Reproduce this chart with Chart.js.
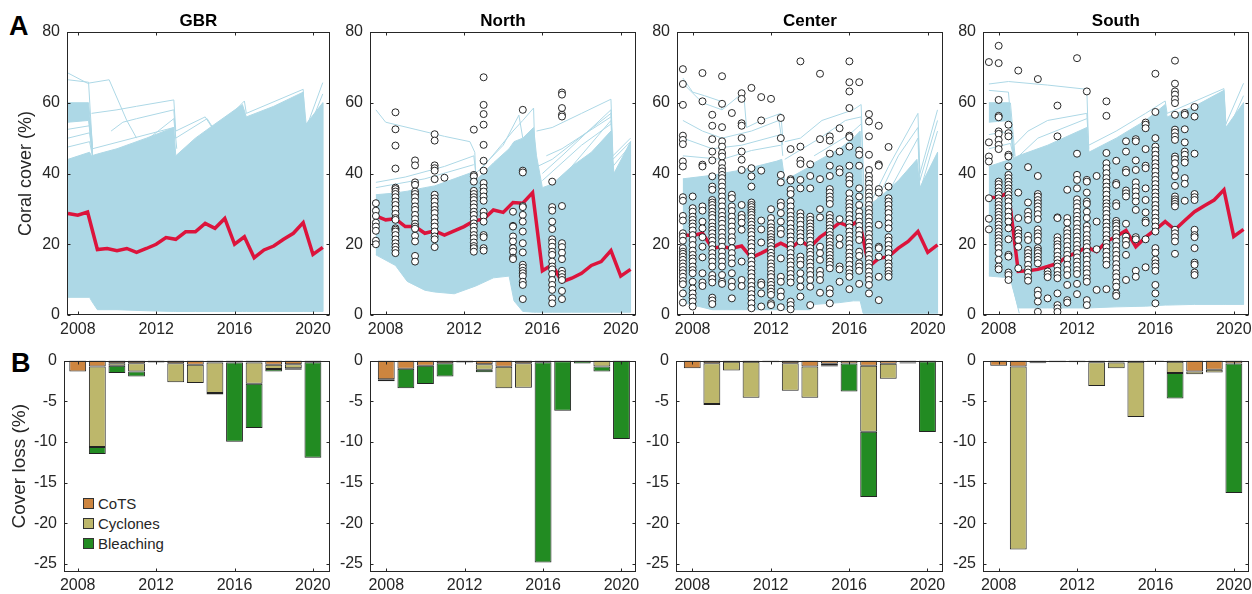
<!DOCTYPE html>
<html lang="en">
<head>
<meta charset="UTF-8">
<title>Coral cover and cover loss</title>
<script src="https://cdn.jsdelivr.net/npm/chart.js"></script>
<style>
    body { margin: 0; background: #fff; overflow: hidden; font-family: "Liberation Sans", Arial, sans-serif; }
    #figure { position: relative; width: 1252px; height: 594px; }
    #figure canvas { position: absolute; }
    .letter { position: absolute; font-weight: bold; font-size: 27px; color: #000; line-height: 1; }
    .legend { position: absolute; left: 83px; top: 493px; font-size: 15px; color: #262626; }
    .legend div { height: 20.3px; display: flex; align-items: center; }
    .legend .box { width: 9px; height: 9px; border: 1px solid #333; margin-right: 4px; }
</style>
</head>
<body>
<div id="figure">
    <div class="letter" style="left:9px; top:13px;">A</div>
    <div class="letter" style="left:11px; top:350px;">B</div>
    <div class="legend">
        <div><span class="box" style="background:#cd853f"></span>CoTS</div>
        <div><span class="box" style="background:#bdb76b"></span>Cyclones</div>
        <div><span class="box" style="background:#228b22"></span>Bleaching</div>
    </div>
</div>
<script>
// ---- tick labels
const coverTicks = [0, 20, 40, 60, 80];
const lossTicks = [-25, -20, -15, -10, -5, 0];
const yearTicks = [2008, 2012, 2016, 2020];

// ---- mean coral cover (red line), every half year
const meanYears = [2007.5, 2008, 2008.5, 2009, 2009.5, 2010, 2010.5, 2011, 2011.5, 2012, 2012.5, 2013, 2013.5,
    2014, 2014.5, 2015, 2015.5, 2016, 2016.5, 2017, 2017.5, 2018, 2018.5, 2019, 2019.5, 2020, 2020.5];
const gbrMean = [28.7, 28.2, 29.1, 18.5, 18.8, 18.2, 18.8, 17.7, 18.8, 20.0, 21.9, 21.4, 23.5, 23.5, 25.9, 24.5, 27.3, 20.0, 22.1, 16.2, 18.4, 19.5, 21.4, 23.1, 26.1, 17.1, 19.1];
const northMean = [28.0, 26.9, 27.2, 25.0, 25.0, 23.1, 23.8, 22.6, 23.8, 25.0, 26.6, 27.1, 29.7, 29.0, 31.8, 31.6, 34.6, 12.5, 14.2, 9.4, 10.4, 11.8, 14.0, 15.1, 18.2, 11.0, 12.9];
const centerMean = [22.6, 22.5, 23.1, 18.9, 19.3, 18.9, 19.5, 16.2, 17.5, 18.9, 20.3, 18.9, 21.0, 19.2, 22.0, 23.9, 26.1, 25.0, 26.8, 13.7, 16.0, 16.5, 18.9, 20.8, 23.6, 17.7, 19.8];
const southMean = [33.2, 33.3, 34.6, 12.3, 12.5, 12.9, 13.7, 14.6, 16.5, 17.7, 19.2, 17.9, 20.8, 22.2, 23.9, 19.3, 22.0, 24.1, 26.4, 24.1, 26.7, 29.2, 30.9, 32.5, 35.4, 22.2, 24.2];

// ---- envelope of the simulated trajectories (dense light blue mass)
const gbrEnvYears = [2007.5, 2008.6, 2008.7, 2009.0, 2010, 2011.5, 2012.9, 2013.0, 2014, 2015, 2016.4, 2016.6, 2018, 2019.5, 2019.65, 2020.5];
const gbrEnvTop = [44, 46, 45, 45.5, 47, 50, 53, 45, 50, 54, 59.5, 56, 59, 63, 54, 60];
const gbrEnvBottom = [5, 5, 4, 1.5, 1.5, 1.2, 1, 1, 1, 1, 1, 1, 1, 1, 1, 1];
const northEnvYears = [2007.5, 2008.5, 2009.1, 2010.0, 2010.5, 2011.5, 2012.5, 2012.6, 2013.5, 2014.3, 2014.55, 2015.0, 2015.55, 2015.7, 2016.0, 2016.5, 2017.5, 2018.5, 2019.5, 2019.65, 2020.5];
const northEnvTop = [34, 34.5, 35, 36, 36.5, 38.5, 40.5, 38, 43, 47, 49, 50, 53, 45, 36, 37, 42, 46, 52, 40, 49];
const northEnvBottom = [17, 14, 9.5, 7, 6.5, 6, 8, 8.2, 10.5, 11, 4, 1, 0.8, 0.8, 0.8, 0.8, 0.8, 0.8, 0.8, 0.8, 0.8];
const centerEnvYears = [2007.5, 2009.0, 2010.5, 2012.3, 2012.55, 2012.7, 2014.0, 2014.2, 2015.5, 2016.2, 2016.55, 2016.7, 2017.5, 2018.5, 2019.45, 2019.6, 2020.5];
const centerEnvTop = [38.5, 39.5, 41, 43.5, 44, 38, 42, 43, 47, 50, 52, 30, 33, 38, 44, 36, 46];
const centerEnvBottom = [3.5, 1.5, 1.5, 1.5, 1.5, 1.5, 1.5, 3, 3.5, 4, 4, 0.5, 0.5, 0.5, 0.5, 0.5, 0.5];
const southEnvYears = [2007.5, 2008.6, 2008.7, 2009.0, 2010.5, 2012.5, 2012.6, 2014.0, 2015.5, 2016.5, 2016.6, 2018.0, 2019.5, 2019.6, 2020.5];
const southEnvTop = [42, 44, 44, 45, 48, 53, 46, 50, 55, 59.5, 56, 59, 63.5, 53, 60];
const southEnvBottom = [11, 10.5, 8, 2, 2, 2, 2, 2.3, 2.5, 2.8, 2.8, 3, 3, 3, 3];
// solid band of trajectories near 55-60 % at the start
const shelfYears = [2007.5, 2008.55, 2008.75];
const gbrShelfTop = [60, 60, 48];
const gbrShelfBottom = [54.5, 55, 45];
const southShelfTop = [60, 60, 47];
const southShelfBottom = [54.5, 55, 44];

// ---- individual sparse trajectories above the dense mass
const gbrLineYears = [
    [2007.5, 2008.5, 2009.6, 2010.5, 2011.0],
    [2007.5, 2008.55, 2008.75, 2012.9],
    [2008.7, 2010, 2011, 2012.9, 2013.0, 2014.5, 2015.2],
    [2009.7, 2010.3, 2011, 2012.9, 2013.0],
    [2010.5, 2012.9, 2013.05],
    [2013, 2014.6, 2015.0, 2016.5, 2016.6, 2019.5, 2019.6, 2020.5],
    [2016.6, 2019.5, 2019.6, 2020.5],
    [2007.5, 2008.6, 2008.75],
    [2007.5, 2008.6, 2008.75],
    [2007.5, 2008.6, 2008.75]
];
const gbrLineCover = [
    [68.4, 65.5, 66.5, 55, 50],
    [66.5, 65.8, 47, 53],
    [57, 58, 59, 60.8, 52, 56, 50],
    [52, 54.5, 55.5, 58, 50],
    [45, 55.5, 47],
    [50, 55.5, 52, 60.5, 57, 63.8, 52, 65.7],
    [55, 62, 50, 62.5],
    [52.5, 53.5, 46],
    [50, 51.5, 45.5],
    [47.5, 49, 45]
];
const northLineYears = [
    [2007.5, 2008, 2009.5, 2011, 2012.3, 2012.55, 2012.6],
    [2007.5, 2009, 2011, 2012.5, 2012.6],
    [2007.5, 2010, 2012.5],
    [2012.6, 2014, 2014.8, 2015.0],
    [2013, 2014.5, 2015.0, 2015.55, 2015.65, 2016],
    [2015.7, 2016.5, 2018, 2019.5, 2019.6, 2020.5],
    [2016.0, 2017, 2019.5, 2019.6, 2020.5],
    [2016.3, 2017.5, 2019.5, 2019.6],
    [2016.5, 2019.5, 2019.65, 2020.5],
    [2016.2, 2017, 2019.5],
    [2015.75, 2016.5, 2019.5, 2019.6, 2020.5],
    [2016.0, 2018, 2019.5]
];
const northLineCover = [
    [58, 54.5, 52.5, 50.5, 49, 46, 39],
    [37.5, 39, 42, 45, 40],
    [36, 38.5, 42.5],
    [40, 48, 56.5, 50],
    [42, 52, 55, 58.5, 40, 20],
    [52, 53, 57, 61, 45, 50],
    [40, 45, 58, 42, 48],
    [35, 42, 55, 40],
    [30, 52, 37, 45],
    [45, 47, 56],
    [42, 44, 57, 44, 49],
    [38, 48, 54]
];
const centerLineYears = [
    [2007.5, 2008.0, 2008.6, 2009.4, 2009.5],
    [2007.5, 2008.5, 2009.5, 2010.6, 2010.75, 2011.5, 2012.5, 2012.6],
    [2007.5, 2008.5, 2009.5, 2011, 2012.4, 2012.6],
    [2007.5, 2009, 2010.5, 2012.5, 2012.6],
    [2007.5, 2009.5, 2011, 2012.5],
    [2012.7, 2013.5, 2014.6, 2016.2, 2016.6, 2016.75],
    [2012.7, 2014.5, 2015.8, 2016.6, 2016.75],
    [2014.2, 2016, 2016.6],
    [2016.75, 2018, 2019.5, 2019.6, 2020.5],
    [2016.75, 2018.5, 2019.5, 2019.6, 2020.5],
    [2016.75, 2019.5, 2019.6, 2020.5]
];
const centerLineCover = [
    [67, 63, 62, 60.5, 58],
    [65.5, 60, 58, 63, 53, 55, 57, 50],
    [55, 52, 50, 52, 55, 48],
    [50, 47, 48, 51, 45],
    [45, 44, 46.5, 48],
    [49, 50, 55, 58, 59.5, 35],
    [44, 50, 55, 56, 30],
    [45, 51, 54],
    [28, 42, 57, 40, 58],
    [25, 45, 53, 38, 55],
    [22, 50, 35, 52]
];
const southLineYears = [
    [2007.5, 2008.5, 2010.5, 2012.5, 2012.6],
    [2007.5, 2008.5, 2008.75],
    [2008.8, 2009.5, 2010.5, 2012.5, 2012.6],
    [2008.6, 2008.85, 2010, 2012.5],
    [2012.6, 2014, 2015.5, 2016.5, 2016.6, 2019.5, 2019.6, 2020.5],
    [2016.6, 2019.5, 2019.6, 2020.5],
    [2007.5, 2008.6, 2009.05],
    [2007.5, 2008.6, 2008.8],
    [2007.5, 2008.6, 2008.8]
];
const southLineCover = [
    [65.3, 66, 65, 63.8, 46],
    [63.5, 63, 46],
    [48, 52, 55, 57, 47],
    [60, 44, 50, 55.5],
    [48, 52, 57, 60.5, 57, 64, 54, 65.5],
    [55, 62.5, 51, 62],
    [11.8, 10.8, 0.5],
    [51, 52, 45],
    [47, 48.5, 44]
];

// ---- survey observations (open circles), one list per survey time
const northObsYears = [2007.5, 2008.5, 2009.5, 2010.5, 2011, 2012.5, 2013, 2014.5, 2015, 2016.5, 2017];
const northObs = [
    [31.6, 29.5, 28.0, 26.1, 25.0, 23.8, 21.0, 20.0],
    [57.3, 52.5, 47.9, 41.4, 36.0, 35.6, 34.9, 34.2, 33.3, 32.1, 31.1, 29.9, 28.6, 27.4, 26.9, 24.5, 24.1, 23.6, 22.6, 21.4, 20.3, 19.3, 18.4, 17.5],
    [43.7, 42.3, 37.5, 36.8, 34.9, 34.2, 33.3, 32.1, 30.7, 29.7, 28.3, 27.1, 25.8, 25.0, 24.4, 22.4, 20.8, 16.7, 15.1],
    [51.1, 49.3, 42.3, 41.5, 40.8, 38.4, 34.0, 33.0, 32.1, 30.8, 29.7, 28.8, 27.4, 26.1, 25.0, 23.6, 22.2, 21.4, 19.2],
    [38.8],
    [52.4, 39.6, 39.2, 37.7, 35.1, 34.2, 33.3, 32.5, 31.4, 30.4, 29.2, 28.3, 27.1, 25.9, 25.0, 23.8, 22.6, 21.7, 20.5, 19.5, 18.9, 17.9],
    [67.2, 59.4, 56.8, 53.8, 48.1, 43.6, 40.8, 37.3, 36.0, 34.9, 33.5, 32.3, 29.2, 28.0, 26.4, 22.6, 22.0, 18.9, 18.2],
    [29.2, 25.2, 25.0, 22.2, 20.8, 18.9, 17.9, 16.2, 15.8],
    [58.0, 40.8, 40.3, 30.8, 30.5, 28.3, 26.4, 23.6, 20.3, 17.7, 14.2, 13.4, 12.5, 11.8, 11.0, 9.4, 8.5, 4.5],
    [37.7, 30.5, 29.5, 26.4, 24.3, 21.4, 20.5, 19.3, 17.9, 17.0, 15.1, 13.7, 12.9, 11.6, 9.9, 8.5, 7.1, 4.7, 3.3],
    [62.9, 62.3, 58.5, 56.6, 56.1, 30.8, 20.3, 19.2, 17.6, 15.8, 12.5, 11.6, 10.7, 9.9, 6.8, 4.5]
];
const centerObsYears = [2007.5, 2008, 2008.5, 2009, 2009.5, 2010, 2010.5, 2011, 2011.5, 2012, 2012.5, 2013, 2013.5, 2014, 2014.5, 2015, 2015.5, 2016, 2016.5, 2017, 2017.5, 2018];
const centerObs = [
    [69.5, 65.3, 59.4, 50.7, 49.5, 48.3, 43.4, 42.0, 33.3, 32.3, 28.0, 26.7, 23.1, 22.2, 21.0, 18.9, 17.9, 17.3, 16.5, 15.6, 14.6, 13.7, 12.7, 11.8, 10.8, 9.6, 8.7, 6.1, 3.5],
    [33.5, 30.2, 29.2, 27.8, 26.9, 25.9, 25.0, 23.9, 22.6, 21.2, 19.8, 18.2, 17.0, 16.0, 15.1, 13.7, 12.7, 11.8, 9.4, 7.5, 6.1, 4.9, 3.8, 2.4],
    [68.4, 60.4, 42.5, 42.0, 30.7, 29.5, 26.4, 24.5, 22.0, 19.3, 16.3, 11.8, 9.2, 8.2],
    [56.6, 53.5, 49.7, 46.2, 43.7, 39.2, 36.3, 35.4, 32.5, 31.8, 31.1, 30.2, 29.2, 28.3, 27.4, 26.1, 25.0, 24.1, 23.1, 22.0, 21.0, 19.8, 18.6, 17.5, 16.3, 15.1, 13.7, 11.3, 10.2, 9.2, 4.9, 4.1, 3.1],
    [67.5, 59.7, 53.1, 49.1, 47.6, 45.8, 44.8, 42.9, 41.5, 40.6, 39.6, 38.7, 37.5, 36.3, 34.9, 33.5, 32.1, 30.7, 29.2, 28.0, 26.9, 25.8, 24.5, 23.3, 22.0, 20.8, 19.3, 17.9, 16.5, 15.1, 13.7, 11.3, 9.4, 8.8],
    [57.1, 34.0, 33.0, 30.7, 29.4, 27.8, 26.4, 25.0, 23.6, 22.0, 20.8, 18.9, 17.5, 16.0, 14.6, 11.8, 9.4, 8.0, 4.7],
    [62.7, 61.1, 54.2, 53.5, 50.0, 46.2, 43.9, 41.0, 31.1, 28.3, 27.4, 26.1, 24.1, 15.1, 9.9, 8.2],
    [64.2, 41.5, 39.2, 36.3, 31.8, 31.1, 30.5, 29.7, 29.0, 28.3, 27.4, 26.4, 25.5, 24.5, 23.6, 22.6, 21.4, 20.3, 19.2, 17.9, 16.5, 15.3, 14.2, 12.9, 11.8, 10.7, 9.4, 8.2, 7.1, 5.9, 4.7, 3.3, 1.9],
    [61.6, 55.0, 40.8, 26.7, 24.2, 20.5, 9.2, 8.5, 6.1, 2.4],
    [61.1, 29.9, 27.4, 25.9, 24.8, 23.9, 22.9, 22.0, 21.2, 20.5, 19.5, 18.6, 17.6, 16.7, 15.8, 14.6, 13.7, 12.7, 11.6, 10.7, 9.4, 8.5, 7.5, 6.6, 5.7, 3.3, 2.8],
    [55.7, 50.0, 39.6, 37.5, 31.8, 30.8, 28.8, 26.4, 24.2, 22.9, 16.0, 10.8, 9.4, 6.6, 5.2, 2.2],
    [46.9, 38.4, 38.0, 35.4, 34.2, 32.1, 30.7, 29.2, 28.0, 26.9, 25.8, 24.5, 23.4, 22.2, 21.0, 19.8, 18.6, 17.5, 16.2, 15.1, 14.0, 12.7, 11.6, 10.4, 9.2, 3.8, 2.8, 1.6],
    [71.7, 47.6, 43.7, 42.7, 38.2, 35.8, 28.8, 27.8, 26.7, 25.5, 24.1, 23.1, 22.0, 20.8, 16.5, 15.4, 14.2, 11.8, 9.9, 8.0, 5.2],
    [42.6, 39.3, 35.8, 27.8, 26.9, 25.9, 25.0, 24.1, 23.1, 22.2, 21.0, 19.8, 18.9, 17.9, 17.0, 15.8, 14.8, 13.7, 12.5, 11.3, 9.9, 8.0, 2.8],
    [68.2, 49.7, 38.4, 29.9, 27.6, 19.3, 17.5, 15.6, 12.5, 11.3, 9.9, 6.3],
    [50.5, 49.3, 45.6, 42.2, 39.3, 35.6, 34.6, 33.5, 32.5, 31.4, 28.3, 27.4, 26.4, 25.5, 24.5, 23.6, 22.6, 21.7, 20.8, 19.8, 18.9, 17.9, 17.0, 16.0, 15.1, 14.2, 13.2, 7.3, 6.1, 3.3],
    [52.8, 46.2, 41.2, 40.3, 27.1, 21.7, 19.8, 13.7, 12.9, 9.4],
    [71.7, 65.8, 63.2, 58.5, 50.7, 50.3, 47.6, 42.2, 39.3, 38.2, 37.1, 34.4, 32.7, 31.6, 30.5, 29.5, 28.3, 27.1, 25.9, 24.8, 23.6, 22.4, 21.2, 20.1, 18.9, 17.6, 16.5, 15.4, 14.2, 12.9, 11.8, 10.8, 7.3],
    [65.8, 46.5, 45.3, 42.2, 35.8, 33.5, 31.1, 29.2, 27.8, 26.4, 25.2, 23.9, 22.6, 21.2, 17.9, 16.7, 14.6, 13.7, 12.5, 8.8],
    [56.8, 54.7, 50.5, 45.3, 41.0, 39.3, 38.2, 37.1, 35.8, 34.6, 33.5, 32.4, 31.1, 29.9, 28.8, 27.6, 26.4, 25.2, 24.1, 22.9, 21.7, 20.5, 19.3, 18.2, 17.0, 15.8, 14.6, 13.5, 12.3, 11.0, 9.9, 8.5, 6.1],
    [53.5, 42.6, 42.2, 35.6, 34.6, 25.5, 19.3, 18.9, 16.5, 10.8, 4.2],
    [47.5, 36.3, 33.0, 32.1, 31.1, 29.9, 28.8, 27.4, 25.9, 24.5, 22.0, 21.0, 19.8, 18.6, 17.5, 16.0, 14.6, 13.7, 12.5, 11.6, 10.8]
];
const southObsYears = [2007.5, 2008, 2008.5, 2009, 2009.5, 2010, 2010.5, 2011, 2011.5, 2012, 2012.5, 2013, 2013.5, 2014, 2014.5, 2015, 2015.5, 2016, 2017, 2017.5, 2018];
const southObs = [
    [71.5, 48.8, 44.8, 43.4, 33.0, 27.2, 24.2],
    [76.1, 71.2, 60.8, 56.3, 55.9, 51.9, 51.2, 49.5, 48.1, 46.9, 37.7, 37.0, 36.0, 34.9, 34.0, 33.0, 32.1, 31.1, 30.2, 29.2, 28.3, 27.4, 26.4, 25.5, 24.5, 23.6, 22.6, 21.7, 20.8, 19.8, 18.9, 17.5, 15.6, 13.7, 12.9],
    [53.8, 51.4, 50.5, 45.3, 44.8, 42.0, 39.6, 38.7, 37.7, 36.8, 35.8, 34.9, 34.0, 33.0, 32.1, 30.7, 29.2, 27.8, 26.4, 24.5, 21.4, 17.0, 16.5, 12.0, 11.3, 9.9],
    [69.1, 34.6, 27.4, 24.1, 23.1, 22.2, 21.2, 19.3, 13.2],
    [41.8, 31.8, 29.2, 28.0, 26.9, 22.4, 21.2, 18.4, 17.5, 16.5, 15.6, 14.2, 12.9, 12.0, 10.7, 9.7],
    [66.7, 39.3, 34.2, 33.5, 32.5, 31.6, 30.7, 29.7, 28.5, 27.1, 24.2, 23.1, 22.2, 21.0, 18.9, 18.2, 17.5, 16.5, 15.6, 14.6, 6.9, 5.7, 3.8, 0.9],
    [12.3, 11.5, 10.7, 4.7],
    [59.2, 50.5, 27.6, 27.4, 22.0, 21.0, 20.0, 19.2, 17.9, 16.7, 15.6, 14.6, 13.7, 12.5, 11.3, 10.4, 6.1, 2.8, 1.9, 0.9],
    [35.4, 27.4, 26.1, 24.1, 23.1, 22.0, 20.8, 19.5, 18.2, 17.0, 15.8, 14.2, 12.7, 11.3, 8.5, 4.2, 3.5],
    [72.6, 45.6, 39.6, 38.2, 35.8, 32.7, 31.6, 30.5, 29.2, 28.0, 26.9, 25.8, 24.5, 23.4, 22.2, 21.0, 19.8, 18.6, 17.5, 16.3, 15.1, 14.0, 12.7, 11.6, 8.8, 5.9],
    [63.2, 38.2, 37.7, 34.6, 32.1, 31.4, 29.2, 27.4, 25.2, 24.1, 22.6, 21.4, 20.3, 19.2, 17.9, 16.7, 15.6, 14.2, 12.9, 11.8, 10.4, 9.4, 4.2, 2.8],
    [39.3, 26.4, 18.6, 7.1],
    [60.4, 56.3, 45.8, 42.9, 41.5, 40.1, 38.7, 37.5, 36.3, 35.2, 34.0, 32.7, 31.6, 30.7, 29.7, 28.6, 27.4, 26.1, 25.0, 23.9, 22.6, 21.4, 20.3, 19.2, 17.9, 16.7, 15.4, 14.2, 7.3],
    [43.6, 37.3, 36.8, 31.6, 30.8, 26.6, 25.9, 25.2, 24.2, 23.1, 22.0, 20.8, 19.5, 18.2, 17.0, 15.8, 14.4, 13.2, 11.8, 10.7, 9.2, 8.0, 6.1, 5.4],
    [49.1, 46.2, 41.0, 40.3, 35.2, 34.4, 33.5, 25.8, 22.2, 21.0, 19.8, 17.0, 9.9],
    [49.7, 49.1, 43.7, 41.0, 37.5, 36.1, 34.9, 33.5, 32.1, 29.7, 22.0, 21.4, 12.5, 10.8],
    [54.4, 53.8, 52.8, 46.9, 42.2, 41.5, 35.8, 32.5, 29.0, 26.7, 26.1, 21.4, 13.5],
    [68.2, 57.4, 50.0, 47.6, 46.5, 45.3, 44.1, 42.9, 41.8, 40.6, 39.3, 38.2, 37.0, 35.8, 34.6, 33.5, 32.4, 31.1, 30.0, 28.8, 27.5, 26.4, 25.0, 23.6, 18.9, 17.6, 15.6, 14.6, 13.7, 12.5, 8.5, 6.1, 3.3],
    [71.9, 65.4, 63.2, 62.3, 61.0, 59.9, 56.6, 52.4, 51.6, 50.5, 49.5, 44.8, 44.1, 42.9, 41.0, 39.2, 36.5, 33.5, 32.7, 32.1, 31.4, 30.7, 24.1, 23.1, 22.0, 20.8, 17.3],
    [57.1, 56.6, 52.5, 48.8, 46.2, 45.3, 43.9, 43.1, 38.7, 37.1, 32.3],
    [58.8, 56.1, 45.6, 34.2, 33.3, 32.5, 24.1, 22.6, 22.0, 18.9, 14.8, 14.2, 12.0, 11.3]
];

// ---- annual cover loss (%) by cause
const lossYears = [2008, 2009, 2010, 2011, 2012, 2013, 2014, 2015, 2016, 2017, 2018, 2019, 2020];
const gbrCots = [-1.35, -0.74, -0.33, -0.33, -0.25, -0.33, -0.53, -0.25, -0.25, -0.25, -0.53, -0.45, -0.2];
const gbrCyclones = [0, -9.9, -0.32, -1.02, 0, -2.33, -2.25, -3.75, 0, -2.61, -0.53, -0.49, 0];
const gbrBleaching = [0, -0.86, -0.9, -0.61, 0, 0, 0, -0.17, -9.75, -5.45, -0.29, -0.2, -11.75];
const northCots = [-2.29, -1.02, -0.65, -0.33, -0.25, -0.45, -0.78, -0.33, -0.2, -0.1, -0.05, -0.05, -0.05];
const northCyclones = [0, 0, 0, 0, 0, -0.7, -2.62, -3.03, 0, 0, 0, -0.69, 0];
const northBleaching = [-0.25, -2.38, -2.25, -1.63, 0, -0.28, 0, 0, -24.64, -6.08, -0.32, -0.61, -9.61];
const centerCots = [-0.94, -0.33, -0.16, -0.16, -0.2, -0.33, -0.74, -0.41, -0.37, -0.65, -0.41, -0.25, -0.12];
const centerCyclones = [0, -5.03, -1.07, -4.42, 0, -3.39, -3.84, -0.16, 0, -8.11, -1.84, -0.12, 0];
const centerBleaching = [0, -0.12, 0, 0, 0, 0, 0, -0.17, -3.43, -8.02, 0, 0, -8.68];
const southCots = [-0.65, -0.74, -0.2, -0.2, -0.16, -0.2, -0.25, -0.16, -0.1, -0.16, -1.35, -1.15, -0.37];
const southCyclones = [0, -22.5, -0.13, 0, -0.04, -2.95, -0.69, -6.8, 0, -1.39, -0.33, -0.32, 0];
const southBleaching = [0, 0, 0, 0, 0, 0, 0, 0, -0.05, -3.11, 0, 0, -15.92];

const BLUE = '#add8e6';
const RED = '#dc143c';
const AXIS = '#262626';
const PX_PER_YEAR = 19.6;
const PAD_R = 8;

Chart.defaults.font.family = '"Liberation Sans", Arial, Helvetica, sans-serif';
Chart.defaults.color = AXIS;

function pts(xs, ys) {
    return xs.map((x, i) => ({ x: x, y: ys[i] }));
}
function polygon(xs, top, bottom) {
    const p = pts(xs, top);
    for (let i = xs.length - 1; i >= 0; i--) p.push({ x: xs[i], y: bottom[i] });
    return p;
}

// box round the axes and short ticks pointing inward, like the original
const frame = {
    id: 'frame',
    afterDatasetsDraw(chart) {
        const { ctx, chartArea: a, scales } = chart;
        const L = Math.round(a.left) + 0.5, R = Math.round(a.right) - 0.5;
        const T = Math.round(a.top) + 0.5, B = Math.round(a.bottom) - 0.5;
        ctx.save();
        ctx.strokeStyle = AXIS;
        ctx.lineWidth = 1;
        ctx.strokeRect(L, T, R - L, B - T);
        ctx.beginPath();
        scales.x.ticks.forEach(t => {
            const px = Math.round(scales.x.getPixelForValue(t.value)) + 0.5;
            ctx.moveTo(px, B); ctx.lineTo(px, B - 3);
            ctx.moveTo(px, T); ctx.lineTo(px, T + 3);
        });
        scales.y.ticks.forEach(t => {
            const py = Math.round(scales.y.getPixelForValue(t.value)) + 0.5;
            ctx.moveTo(L, py); ctx.lineTo(L + 3, py);
            ctx.moveTo(R, py); ctx.lineTo(R - 3, py);
        });
        ctx.stroke();
        ctx.restore();
    }
};

const fig = document.getElementById('figure');

function addCanvas(left, top, w, h) {
    const cv = document.createElement('canvas');
    cv.width = w; cv.height = h;
    cv.style.left = left + 'px';
    cv.style.top = top + 'px';
    fig.appendChild(cv);
    return cv;
}

function xScale(xMin, width, height, pad) {
    return {
        type: 'linear', min: xMin, max: xMin + width / PX_PER_YEAR, offset: false,
        grid: { display: false, drawTicks: false, offset: false }, border: { display: false },
        ticks: { font: { size: 16 }, padding: pad, callback: v => String(v) },
        afterBuildTicks: s => { s.ticks = yearTicks.map(v => ({ value: v })); },
        afterFit: s => { s.height = height; }
    };
}

function yScale(min, max, tickList, width, title, titleSize, titlePad) {
    return {
        type: 'linear', min: min, max: max,
        grid: { display: false, drawTicks: false }, border: { display: false },
        ticks: { font: { size: 16 }, padding: 7, callback: v => String(v) },
        afterBuildTicks: s => { s.ticks = tickList.map(v => ({ value: v })); },
        afterFit: s => { s.width = width; },
        title: title ? { display: true, text: title, font: { size: titleSize }, color: AXIS, padding: { top: titlePad, bottom: 0 } } : { display: false }
    };
}

function makeCover(p) {
    const yW = p.first ? p.left : 45;
    const cv = addCanvas(p.left - yW, 0, yW + p.width + PAD_R, 345);
    const datasets = [];
    const obs = [];
    p.obsYears.forEach((yr, k) => p.obs[k].forEach(v => obs.push({ x: yr, y: v })));
    if (obs.length) {
        datasets.push({ data: obs, pointRadius: 3.5, pointBorderWidth: 0.9, pointBorderColor: '#111', pointBackgroundColor: '#fff', showLine: false });
    }
    datasets.push({ type: 'line', data: pts(meanYears, p.mean), borderColor: RED, borderWidth: 3.5, pointRadius: 0, fill: false });
    p.lineYears.forEach((ys, k) => {
        datasets.push({ type: 'line', data: pts(ys, p.lineCover[k]), borderColor: BLUE, borderWidth: 1, pointRadius: 0, fill: false });
    });
    if (p.shelfTop) {
        datasets.push({ type: 'line', data: polygon(shelfYears, p.shelfTop, p.shelfBottom), borderColor: BLUE, backgroundColor: BLUE, borderWidth: 1, pointRadius: 0, fill: 'shape' });
    }
    datasets.push({ type: 'line', data: polygon(p.envYears, p.envTop, p.envBottom), borderColor: BLUE, backgroundColor: BLUE, borderWidth: 1, pointRadius: 0, fill: 'shape' });

    new Chart(cv, {
        type: 'scatter',
        data: { datasets: datasets },
        options: {
            responsive: false, animation: false,
            layout: { padding: { left: 0, right: PAD_R, top: 0, bottom: 0 } },
            plugins: {
                legend: { display: false }, tooltip: { enabled: false },
                title: { display: true, text: p.name, fullSize: false, color: '#000', font: { size: 17, weight: 'bold' }, padding: { top: 11, bottom: 0.6 } }
            },
            scales: {
                x: xScale(p.xMin, p.width, 30, 5),
                y: yScale(0, 80, coverTicks, yW, p.first ? 'Coral cover (%)' : '', 18, 15)
            }
        },
        plugins: [frame]
    });
}

function makeLoss(p) {
    const yW = p.first ? p.left : 45;
    const cv = addCanvas(p.left - yW, 340, yW + p.width + PAD_R, 254);
    const part = (vals, color) => ({
        data: pts(lossYears, vals.map(v => v === 0 ? null : v)),
        backgroundColor: color, borderColor: '#222', borderWidth: 1, borderSkipped: false,
        barPercentage: 0.86, categoryPercentage: 1
    });
    new Chart(cv, {
        type: 'bar',
        data: { datasets: [part(p.cots, '#cd853f'), part(p.cyclones, '#bdb76b'), part(p.bleaching, '#228b22')] },
        options: {
            responsive: false, animation: false,
            layout: { padding: { left: 0, right: PAD_R, top: 20.5, bottom: 0 } },
            plugins: { legend: { display: false }, tooltip: { enabled: false } },
            scales: {
                x: Object.assign(xScale(p.xMin, p.width, 22, 3.5), { stacked: true }),
                y: Object.assign(yScale(-26, 0, lossTicks, yW, p.first ? 'Cover loss (%)' : '', 19, 8), { stacked: true })
            }
        },
        plugins: [frame]
    });
}

const coverPanels = [
    { name: 'GBR', first: true, left: 67, width: 263, xMin: 2007.45, mean: gbrMean, obsYears: [], obs: [],
      envYears: gbrEnvYears, envTop: gbrEnvTop, envBottom: gbrEnvBottom, shelfTop: gbrShelfTop, shelfBottom: gbrShelfBottom,
      lineYears: gbrLineYears, lineCover: gbrLineCover },
    { name: 'North', left: 370, width: 266, xMin: 2007.2, mean: northMean, obsYears: northObsYears, obs: northObs,
      envYears: northEnvYears, envTop: northEnvTop, envBottom: northEnvBottom,
      lineYears: northLineYears, lineCover: northLineCover },
    { name: 'Center', left: 677, width: 266, xMin: 2007.2, mean: centerMean, obsYears: centerObsYears, obs: centerObs,
      envYears: centerEnvYears, envTop: centerEnvTop, envBottom: centerEnvBottom,
      lineYears: centerLineYears, lineCover: centerLineCover },
    { name: 'South', left: 983, width: 266, xMin: 2007.2, mean: southMean, obsYears: southObsYears, obs: southObs,
      envYears: southEnvYears, envTop: southEnvTop, envBottom: southEnvBottom, shelfTop: southShelfTop, shelfBottom: southShelfBottom,
      lineYears: southLineYears, lineCover: southLineCover }
];
const lossPanels = [
    { first: true, left: 64, width: 266, xMin: 2007.3, cots: gbrCots, cyclones: gbrCyclones, bleaching: gbrBleaching },
    { left: 370, width: 266, xMin: 2007.17, cots: northCots, cyclones: northCyclones, bleaching: northBleaching },
    { left: 676, width: 267, xMin: 2007.17, cots: centerCots, cyclones: centerCyclones, bleaching: centerBleaching },
    { left: 983, width: 266, xMin: 2007.2, cots: southCots, cyclones: southCyclones, bleaching: southBleaching }
];

coverPanels.forEach(makeCover);
lossPanels.forEach(makeLoss);
</script>
</body>
</html>
